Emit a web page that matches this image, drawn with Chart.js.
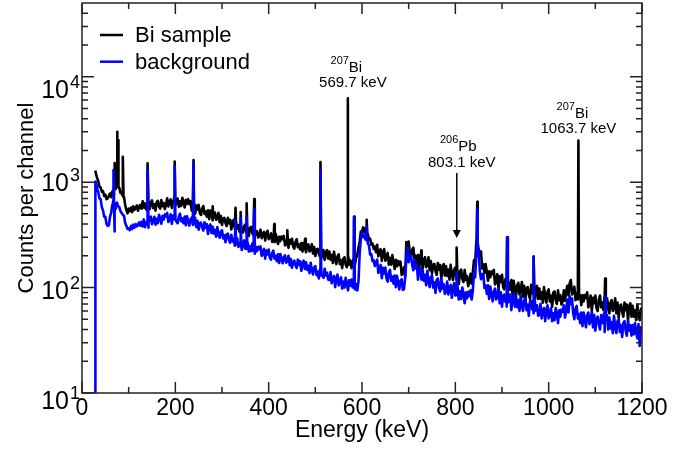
<!DOCTYPE html>
<html>
<head>
<meta charset="utf-8">
<title>Bi sample gamma spectrum</title>
<script src="https://cdn.jsdelivr.net/npm/chart.js@4.4.1/dist/chart.umd.min.js"></script>
<style>
  html, body { margin: 0; padding: 0; background: #fff; }
</style>
</head>
<body>
<canvas id="spectrum" width="696" height="450"></canvas>
<script>
// continuum: one value every 2.5 keV from 30 to 1200 keV, 50 keV per row
const energyStart = 30;
const energyStep = 2.5;

const sampleCounts = [
  1200, 1090, 1020, 900, 890, 810, 820, 740, 760, 690, 700, 740, 780, 720, 820, 760, 880, 930, 900, 960,
  880, 790, 800, 740, 720, 610, 545, 505, 560, 530, 575, 520, 590, 545, 570, 600, 535, 585, 610, 560,
  659, 573, 628, 549, 683, 598, 555, 641, 671, 567, 616, 537, 647, 665, 586, 561, 677, 592, 634, 555,
  608, 704, 589, 653, 685, 570, 666, 717, 602, 634, 698, 582, 659, 595, 710, 646, 576, 678, 621, 691,
  618, 660, 537, 561, 624, 503, 600, 549, 609, 510, 488, 563, 594, 498, 528, 471, 541, 445, 538, 483,
  434, 496, 514, 439, 453, 512, 416, 478, 393, 450, 458, 410, 384, 459, 408, 440, 355, 419, 438, 364,
  419, 361, 391, 338, 417, 362, 333, 381, 396, 332, 358, 309, 369, 376, 328, 312, 373, 323, 343, 298,
  308, 354, 294, 324, 338, 279, 324, 346, 288, 300, 327, 271, 305, 273, 324, 293, 259, 303, 275, 305,
  288, 309, 251, 263, 294, 238, 284, 261, 290, 244, 234, 271, 287, 241, 257, 230, 265, 219, 266, 240,
  216, 248, 257, 220, 227, 258, 210, 242, 199, 229, 233, 209, 197, 235, 210, 227, 183, 216, 226, 188,
  220, 184, 204, 171, 219, 186, 167, 197, 206, 167, 182, 153, 188, 194, 165, 156, 194, 165, 181, 153,
  172, 195, 165, 192, 205, 240, 272, 340, 338, 372, 333, 365, 318, 318, 288, 290, 255, 262, 232, 246,
  216, 254, 198, 222, 231, 179, 214, 232, 180, 191, 213, 165, 191, 165, 203, 177, 150, 183, 159, 179,
  164, 176, 132, 139, 156, 126, 270, 247, 273, 211, 193, 229, 239, 186, 201, 171, 203, 157, 202, 176,
  151, 184, 194, 156, 163, 194, 146, 178, 136, 164, 168, 145, 132, 171, 148, 164, 122, 156, 167, 130,
  160, 129, 148, 119, 164, 134, 118, 147, 155, 119, 136, 108, 143, 148, 121, 113, 147, 118, 129, 103,
  112, 135, 109, 139, 182, 170, 276, 351, 230, 213, 220, 152, 166, 137, 167, 141, 116, 143, 125, 142,
  134, 147, 107, 115, 134, 97, 128, 113, 132, 101, 96, 121, 131, 101, 112, 95, 118, 86, 116, 98,
  83, 104, 111, 86, 92, 113, 82, 104, 76, 98, 101, 86, 78, 106, 88, 102, 72, 96, 104, 78,
  98, 78, 90, 72, 101, 82, 72, 91, 96, 74, 84, 66, 90, 92, 76, 70, 94, 76, 85, 69,
  74, 94, 75, 91, 104, 84, 110, 118, 86, 91, 102, 76, 89, 77, 99, 83, 68, 85, 74, 85,
  80, 90, 65, 71, 84, 60, 80, 71, 84, 64, 60, 77, 84, 65, 72, 61, 78, 57, 79, 68,
  57, 72, 76, 60, 64, 79, 57, 72, 52, 67, 69, 59, 53, 72, 61, 69, 49, 66, 71, 53,
  67, 53, 61, 49, 69, 56, 49, 61, 65
];

const backgroundCounts = [
  1000, 870, 800, 700, 690, 580, 540, 470, 470, 400, 385, 390, 470, 510, 610, 690, 530, 620, 640, 590,
  580, 530, 510, 490, 480, 410, 385, 360, 365, 350, 385, 360, 395, 370, 400, 380, 395, 415, 385, 420,
  380, 443, 374, 417, 441, 369, 435, 472, 399, 423, 469, 394, 449, 408, 491, 449, 403, 478, 440, 494,
  474, 511, 419, 441, 495, 402, 483, 446, 499, 421, 407, 473, 502, 424, 453, 407, 471, 390, 475, 430,
  387, 443, 460, 393, 406, 459, 374, 430, 354, 406, 413, 371, 348, 416, 370, 400, 322, 380, 397, 329,
  378, 325, 352, 304, 374, 323, 297, 338, 350, 292, 313, 269, 320, 325, 282, 267, 317, 274, 289, 249,
  257, 294, 243, 266, 276, 227, 262, 280, 233, 244, 266, 220, 247, 221, 262, 236, 209, 244, 221, 244,
  231, 246, 200, 209, 233, 188, 225, 206, 229, 192, 184, 212, 224, 188, 200, 178, 207, 171, 208, 188,
  170, 194, 202, 172, 177, 200, 163, 187, 154, 176, 180, 162, 153, 184, 164, 178, 144, 171, 180, 150,
  174, 147, 161, 137, 172, 147, 133, 155, 160, 131, 142, 122, 149, 152, 132, 124, 151, 130, 138, 119,
  118, 140, 110, 124, 129, 101, 122, 133, 105, 112, 125, 98, 114, 100, 124, 110, 94, 117, 104, 119,
  100, 118, 96, 108, 94, 115, 210, 290, 335, 300, 315, 285, 290, 262, 250, 205, 208, 178, 182, 160,
  172, 184, 138, 145, 164, 123, 154, 136, 155, 122, 114, 138, 147, 116, 127, 109, 130, 101, 129, 112,
  96, 116, 120, 95, 97, 123, 191, 240, 174, 203, 200, 165, 146, 182, 152, 164, 119, 149, 155, 119,
  146, 116, 132, 105, 144, 116, 101, 125, 131, 100, 112, 89, 118, 122, 100, 92, 122, 98, 108, 87,
  92, 114, 86, 100, 106, 80, 100, 110, 84, 90, 102, 77, 92, 78, 100, 86, 71, 90, 79, 91,
  83, 94, 77, 94, 139, 125, 205, 223, 228, 144, 120, 134, 135, 99, 105, 87, 105, 78, 102, 87,
  74, 92, 98, 77, 81, 99, 71, 90, 66, 83, 86, 73, 66, 89, 74, 86, 61, 81, 87, 66,
  82, 65, 76, 60, 84, 68, 60, 75, 80, 61, 69, 54, 74, 75, 62, 57, 77, 61, 68, 54,
  55, 70, 51, 61, 64, 48, 60, 68, 51, 55, 64, 48, 57, 49, 64, 56, 46, 61, 53, 62,
  59, 68, 52, 60, 77, 58, 83, 70, 79, 57, 50, 63, 67, 51, 56, 46, 58, 43, 58, 50,
  42, 55, 58, 45, 49, 59, 42, 55, 39, 50, 53, 45, 40, 55, 46, 54, 38, 50, 55, 40,
  52, 41, 47, 37, 54, 43, 37, 48, 50, 38, 44, 34, 46, 48, 39, 35, 49, 39, 44, 35,
  44, 36, 46, 38, 33, 45, 28, 42, 40
];

// narrow lines on top of the continuum, [energy keV, counts]
const samplePeaks = [
  [28.5, 1290],
  [68.5, 880], [70, 1520], [71.5, 860],
  [73.5, 940], [75, 3000], [76.2, 1200], [77.4, 2500], [78.8, 900],
  [86, 760], [87.5, 1740], [89, 720],
  [139.5, 600], [141, 1510], [142.5, 590],
  [197, 650], [198.6, 1570], [200.2, 620],
  [237.5, 600], [239, 1620], [240.5, 570],
  [278.5, 480], [280, 590], [281.5, 460],
  [327.5, 385], [329, 570], [330.5, 372],
  [338.5, 360], [340, 520], [341.5, 345],
  [351.5, 350], [353, 630], [354.5, 335],
  [367.5, 325], [369, 690], [370.5, 310],
  [410.5, 285], [412, 400], [413.5, 270],
  [438.5, 265], [440, 350], [441.5, 250],
  [476.5, 232], [478, 290], [479.5, 222],
  [509.2, 200], [511, 1550], [512.8, 190],
  [568.4, 165], [569.7, 6240], [571, 168],
  [581.6, 185], [583, 470], [584.4, 178],
  [608.6, 345], [610, 440], [611.4, 320],
  [725.6, 180], [727, 225], [728.4, 176],
  [801.7, 130], [803.1, 240], [804.5, 126],
  [845.6, 280], [847, 650], [848.4, 265],
  [909.6, 110], [911, 300], [912.4, 100],
  [966.6, 95], [968, 197], [969.4, 88],
  [1062.3, 90], [1063.7, 2480], [1065.1, 88],
  [1119.6, 82], [1121, 122], [1122.4, 84]
];

const backgroundPeaks = [
  [28.5, 1], [28.7, 1010],
  [66, 620], [67.5, 1300], [68.8, 600], [69.8, 340], [71, 560],
  [139.5, 400], [141, 1300], [142.5, 420],
  [197, 455], [198.6, 1400], [200.2, 440],
  [237.5, 410], [239, 1510], [240.5, 400],
  [327.5, 270], [329, 440], [330.5, 258],
  [338.5, 250], [340, 460], [341.5, 244],
  [351.5, 240], [353, 470], [354.5, 232],
  [367.5, 224], [369, 550], [370.5, 214],
  [509.2, 135], [511, 1300], [512.8, 130],
  [581.6, 100], [583, 470], [584.4, 98],
  [608.6, 295], [610, 380], [611.4, 280],
  [801.7, 86], [803.1, 140], [804.5, 84],
  [845.6, 200], [847, 550], [848.4, 200],
  [909.6, 80], [911, 300], [912.4, 72],
  [966.6, 66], [968, 197], [969.4, 60],
  [1119.6, 58], [1121, 81], [1122.4, 58]
];

const xTicks = [0, 200, 400, 600, 800, 1000, 1200];
const yDecades = [10, 100, 1000, 10000];
const seriesNames = ["Bi sample", "background"];
const seriesColors = ["#000000", "#0000ff"];

const FONT = "'Liberation Sans', Arial, Helvetica, sans-serif";

function buildSeries(counts, peaks) {
  const pts = counts.map((c, i) => ({ x: energyStart + i * energyStep, y: c }));
  peaks.forEach(p => pts.push({ x: p[0], y: p[1] }));
  return pts.sort((a, b) => a.x - b.x);
}

// draws "207Bi" style label centred on cx
function drawIsotope(ctx, cx, base, mass, element) {
  ctx.font = "11px " + FONT;
  const wm = ctx.measureText(mass).width;
  ctx.font = "15px " + FONT;
  const we = ctx.measureText(element).width;
  const left = cx - (wm + we) / 2;
  ctx.textAlign = "left";
  ctx.font = "11px " + FONT;
  ctx.fillText(mass, left, base - 8);
  ctx.font = "15px " + FONT;
  ctx.fillText(element, left + wm, base);
}

const spectrumFrame = {
  id: "spectrumFrame",
  afterDraw(chart) {
    const { ctx, chartArea: a } = chart;
    const x = chart.scales.x, y = chart.scales.y;
    ctx.save();

    // box
    ctx.strokeStyle = "#222";
    ctx.lineWidth = 1.5;
    ctx.strokeRect(a.left, a.top, a.right - a.left, a.bottom - a.top);

    // ticks, pointing inwards on all four sides
    ctx.beginPath();
    for (let i = 0; i < xTicks.length; i++) {
      const px = x.getPixelForValue(xTicks[i]);
      ctx.moveTo(px, a.bottom); ctx.lineTo(px, a.bottom - 11);
      ctx.moveTo(px, a.top); ctx.lineTo(px, a.top + 11);
      if (i < xTicks.length - 1) {
        const mx = x.getPixelForValue((xTicks[i] + xTicks[i + 1]) / 2);
        ctx.moveTo(mx, a.bottom); ctx.lineTo(mx, a.bottom - 6);
        ctx.moveTo(mx, a.top); ctx.lineTo(mx, a.top + 6);
      }
    }
    yDecades.forEach(d => {
      for (let m = 1; m < 10; m++) {
        const v = d * m;
        if (v >= y.max) break;
        const py = y.getPixelForValue(v);
        const len = m === 1 ? 12 : 6;
        ctx.moveTo(a.left, py); ctx.lineTo(a.left + len, py);
        ctx.moveTo(a.right, py); ctx.lineTo(a.right - len, py);
      }
    });
    ctx.stroke();

    ctx.fillStyle = "#000";
    ctx.textBaseline = "alphabetic";

    // x tick labels
    ctx.font = "23px " + FONT;
    ctx.textAlign = "center";
    xTicks.forEach(t => ctx.fillText(String(t), x.getPixelForValue(t), a.bottom + 22));

    // y tick labels as 10^n
    const labelShift = [7, 2, 0, 12];
    yDecades.forEach((d, i) => {
      const py = y.getPixelForValue(d) + labelShift[i];
      const exp = String(Math.round(Math.log10(d)));
      ctx.textAlign = "right";
      ctx.font = "18px " + FONT;
      const we = ctx.measureText(exp).width;
      ctx.fillText(exp, a.left - 2, py - 1);
      ctx.font = "25px " + FONT;
      ctx.fillText("10", a.left - 3 - we, py + 9);
    });

    // axis titles
    ctx.textAlign = "center";
    ctx.font = "23px " + FONT;
    ctx.fillText("Energy (keV)", (a.left + a.right) / 2, 437);
    ctx.save();
    ctx.translate(33, (a.top + a.bottom) / 2);
    ctx.rotate(-Math.PI / 2);
    ctx.font = "22px " + FONT;
    ctx.fillText("Counts per channel", 0, 0);
    ctx.restore();

    // legend
    ctx.lineWidth = 2.5;
    ctx.textAlign = "left";
    ctx.font = "22px " + FONT;
    seriesNames.forEach((name, i) => {
      const ly = 35 + i * 26.7;
      ctx.strokeStyle = seriesColors[i];
      ctx.beginPath();
      ctx.moveTo(100, ly); ctx.lineTo(123, ly);
      ctx.stroke();
      ctx.fillText(name, 135, ly + 7);
    });

    // peak annotations
    ctx.fillStyle = "#000";
    ctx.font = "15px " + FONT;
    ctx.textAlign = "center";
    let px = x.getPixelForValue(569.7);
    let py = y.getPixelForValue(7950);
    ctx.fillText("569.7 keV", px + 5, py);
    drawIsotope(ctx, px - 1.5, py - 15.5, "207", "Bi");

    px = x.getPixelForValue(1063.7);
    py = y.getPixelForValue(2930);
    ctx.textAlign = "center";
    ctx.font = "15px " + FONT;
    ctx.fillText("1063.7 keV", px, py);
    drawIsotope(ctx, px - 6, py - 15, "207", "Bi");

    px = x.getPixelForValue(803.1);
    py = y.getPixelForValue(1394);
    ctx.textAlign = "center";
    ctx.font = "15px " + FONT;
    ctx.fillText("803.1 keV", px + 5, py);
    drawIsotope(ctx, px + 1.5, py - 15.5, "206", "Pb");

    // arrow to the 803.1 keV line
    const top = y.getPixelForValue(1223), tip = y.getPixelForValue(295);
    ctx.strokeStyle = "#000";
    ctx.lineWidth = 1.5;
    ctx.beginPath();
    ctx.moveTo(px, top); ctx.lineTo(px, tip - 6);
    ctx.stroke();
    ctx.beginPath();
    ctx.moveTo(px - 4, tip - 8); ctx.lineTo(px + 4, tip - 8); ctx.lineTo(px, tip);
    ctx.closePath();
    ctx.fill();

    ctx.restore();
  }
};

const ctx = document.getElementById("spectrum").getContext("2d");
new Chart(ctx, {
  type: "line",
  data: {
    datasets: [
      {
        label: seriesNames[0],
        data: buildSeries(sampleCounts, samplePeaks),
        borderColor: seriesColors[0],
        borderWidth: 2.6,
        borderJoinStyle: "round",
        pointRadius: 0,
        tension: 0,
        order: 2
      },
      {
        label: seriesNames[1],
        data: buildSeries(backgroundCounts, backgroundPeaks),
        borderColor: seriesColors[1],
        borderWidth: 2.6,
        borderJoinStyle: "round",
        pointRadius: 0,
        tension: 0,
        order: 1
      }
    ]
  },
  options: {
    responsive: false,
    animation: false,
    devicePixelRatio: 1,
    events: [],
    layout: { padding: { left: 82, right: 54, top: 3, bottom: 57 } },
    scales: {
      x: { type: "linear", min: 0, max: 1200, display: false },
      y: { type: "logarithmic", min: 10, max: 50000, display: false }
    },
    plugins: {
      legend: { display: false },
      tooltip: { enabled: false }
    }
  },
  plugins: [spectrumFrame]
});
</script>
</body>
</html>
